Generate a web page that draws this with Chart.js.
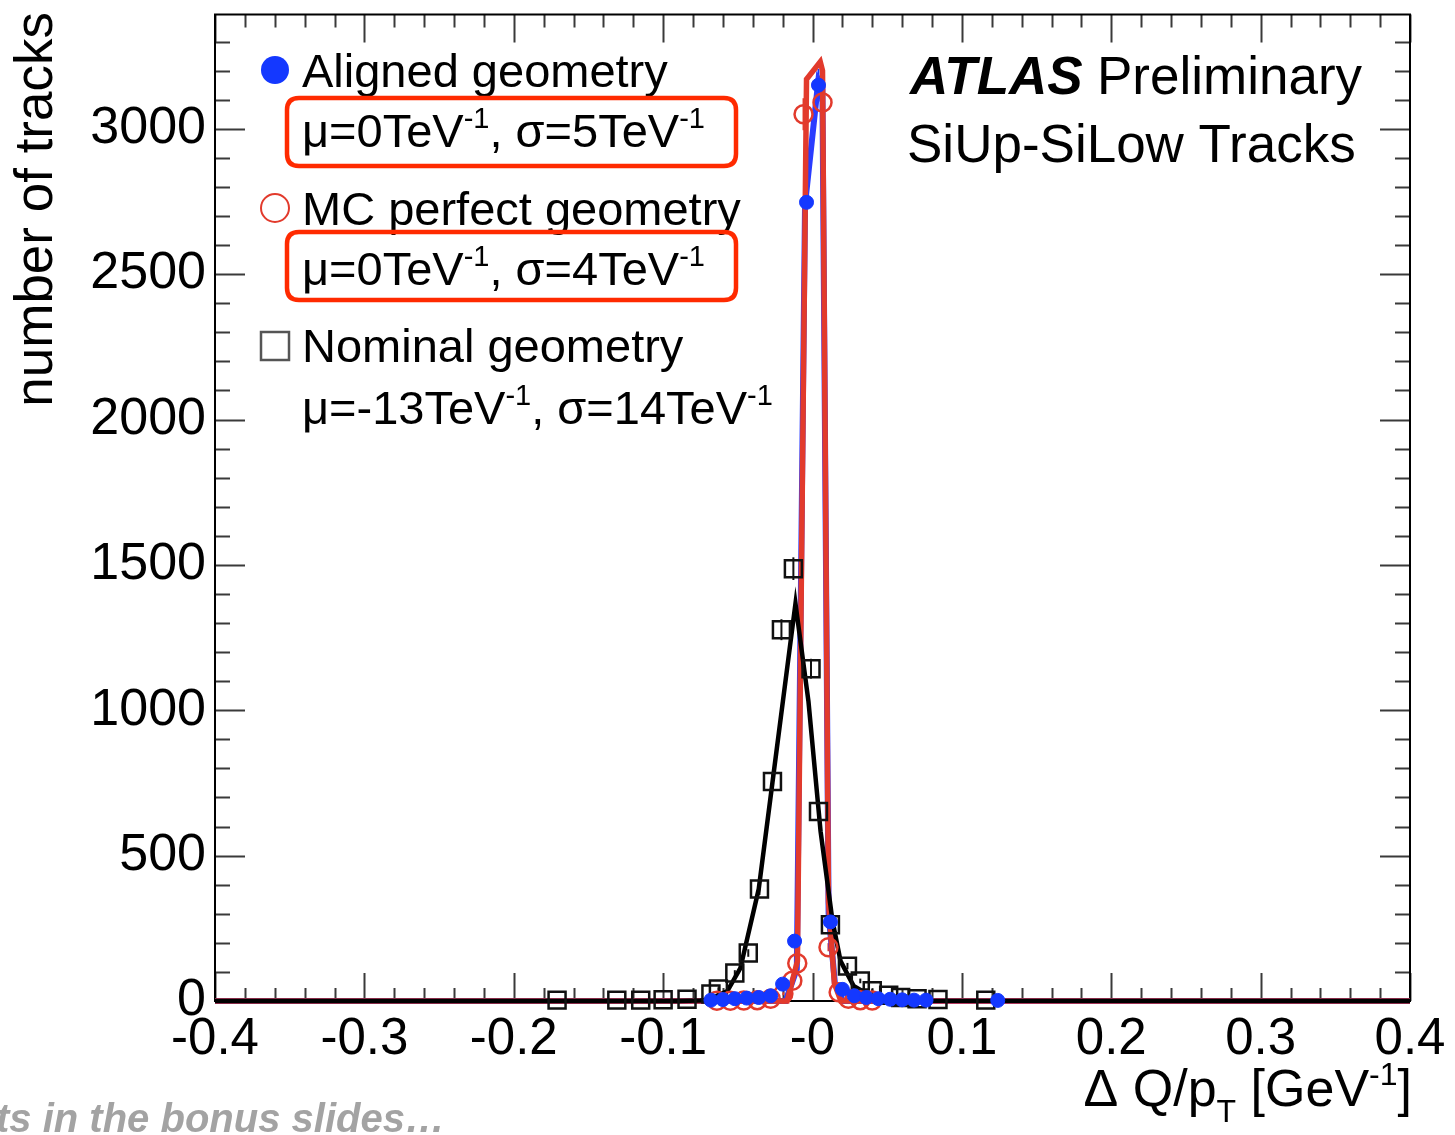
<!DOCTYPE html>
<html><head><meta charset="utf-8">
<script src="https://cdn.jsdelivr.net/npm/chart.js@4.4.1/dist/chart.umd.min.js"></script>
<style>html,body{margin:0;padding:0;background:#fff;overflow:hidden}#wrap{width:1455px;height:1135px;position:relative}</style>
</head><body><div id="wrap"><canvas id="c" width="1455" height="1135"></canvas></div>
<script>
const FONT = '"Liberation Sans", Arial, Helvetica, sans-serif';

// ---------- data ----------
const xTickValues = [-0.4, -0.3, -0.2, -0.1, 0, 0.1, 0.2, 0.3, 0.4];
const xTickLabels = ['-0.4', '-0.3', '-0.2', '-0.1', '-0', '0.1', '0.2', '0.3', '0.4'];
const yTickValues = [0, 500, 1000, 1500, 2000, 2500, 3000];
const yTickLabels = ['0', '500', '1000', '1500', '2000', '2500', '3000'];

// Nominal geometry (open black squares)
const nominalX = [-0.171, -0.131, -0.115, -0.100, -0.084, -0.068, -0.063, -0.052, -0.043, -0.0355, -0.0268, -0.0208, -0.0128, -0.0010, 0.004, 0.012, 0.0234, 0.032, 0.040, 0.051, 0.059, 0.070, 0.084, 0.116];
const nominalY = [3, 3, 3, 4, 6, 24, 41, 96, 165, 385, 755, 1277, 1487, 1143, 652, 262, 120, 69, 35, 20, 12, 8, 5, 3];
const nominalErr = [2, 2, 2, 2, 2, 5, 6, 10, 13, 20, 27, 36, 39, 34, 26, 16, 11, 8, 6, 4, 3, 3, 2, 2];

// Aligned geometry (filled blue circles)
const alignedX = [-0.068, -0.060, -0.052, -0.044, -0.036, -0.028, -0.020, -0.012, -0.004, 0.004, 0.012, 0.020, 0.028, 0.036, 0.044, 0.052, 0.060, 0.068, 0.076, 0.124];
const alignedY = [3, 5, 8, 10, 12, 18, 58, 206, 2747, 3150, 272, 40, 18, 12, 8, 6, 4, 3, 3, 2];
const alignedErr = [2, 2, 3, 3, 3, 4, 8, 14, 52, 56, 16, 6, 4, 3, 3, 2, 2, 2, 2, 1];

// MC perfect geometry (open red circles)
const mcX = [-0.064, -0.055, -0.046, -0.037, -0.028, -0.0195, -0.0135, -0.0102, -0.006, 0.0067, 0.0107, 0.0175, 0.024, 0.032, 0.040];
const mcY = [1, 1, 2, 3, 8, 25, 70, 130, 3050, 3090, 185, 30, 8, 3, 2];
const mcErr = [1, 1, 1, 2, 3, 5, 8, 11, 55, 56, 14, 5, 3, 2, 1];

// Fitted curves (as drawn)
const nominalFitX = [-0.4, -0.09, -0.075, -0.070, -0.057, -0.0483, -0.036, -0.0268, -0.0114, -0.0027, 0.0054, 0.0134, 0.0188, 0.0275, 0.039, 0.050, 0.072, 0.4];
const nominalFitY = [0, 0, 2, 4, 34, 113, 385, 752, 1367, 1030, 584, 275, 137, 52, 17, 7, 1, 0];

const alignedFitX = [-0.4, -0.018, -0.0105, -0.005, 0.0040, 0.0066, 0.0108, 0.015, 0.020, 0.4];
const alignedFitY = [0, 0, 110, 2740, 3170, 3150, 300, 60, 0, 0];

const mcFitX = [-0.4, -0.017, -0.0101, -0.0040, 0.0052, 0.0067, 0.0107, 0.0147, 0.019, 0.4];
const mcFitY = [0, 0, 137, 3170, 3230, 3200, 340, 60, 0, 0];

const Y_MAX = 3393;

const pts = (xs, ys) => xs.map((x, i) => ({ x: x, y: ys[i] }));

// ---------- helpers ----------
function rich(ctx, parts, x, y, size, align) {
  const small = Math.round(size * 0.62);
  const widths = parts.map(p => { ctx.font = (p[1] ? small : size) + 'px ' + FONT; return ctx.measureText(p[0]).width; });
  const total = widths.reduce((a, b) => a + b, 0);
  let cx = align === 'right' ? x - total : x;
  ctx.textAlign = 'left';
  ctx.textBaseline = 'alphabetic';
  parts.forEach((p, i) => {
    ctx.font = (p[1] ? small : size) + 'px ' + FONT;
    const dy = p[1] === 1 ? -size * 0.40 : (p[1] === 2 ? size * 0.30 : 0);
    ctx.fillText(p[0], cx, y + dy);
    cx += widths[i];
  });
}
function roundRect(ctx, x, y, w, h, r) {
  ctx.beginPath();
  ctx.moveTo(x + r, y);
  ctx.lineTo(x + w - r, y); ctx.quadraticCurveTo(x + w, y, x + w, y + r);
  ctx.lineTo(x + w, y + h - r); ctx.quadraticCurveTo(x + w, y + h, x + w - r, y + h);
  ctx.lineTo(x + r, y + h); ctx.quadraticCurveTo(x, y + h, x, y + h - r);
  ctx.lineTo(x, y + r); ctx.quadraticCurveTo(x, y, x + r, y);
  ctx.closePath();
}

const errorSets = [
  { xs: nominalX, ys: nominalY, es: nominalErr, color: '#111' },
  { xs: mcX, ys: mcY, es: mcErr, color: '#e23a2c' },
  { xs: alignedX, ys: alignedY, es: alignedErr, color: '#1438ff' }
];

const framePlugin = {
  id: 'frame',
  beforeDatasetsDraw(chart) {
    const ctx = chart.ctx, a = chart.chartArea;
    const xs = chart.scales.x, ys = chart.scales.y;
    ctx.save();
    ctx.strokeStyle = '#3a3a3a';
    ctx.lineWidth = 2;
    for (let k = 0; k <= 40; k++) {
      const v = -0.4 + k * 0.02;
      const px = Math.round(xs.getPixelForValue(v)) + 0.5;
      const major = k % 5 === 0;
      const L = major ? 28 : 13;
      ctx.beginPath();
      ctx.moveTo(px, a.bottom); ctx.lineTo(px, a.bottom - L);
      ctx.moveTo(px, a.top); ctx.lineTo(px, a.top + L);
      ctx.stroke();
    }
    for (let k = 0; k <= 33; k++) {
      const v = k * 100;
      const py = Math.round(ys.getPixelForValue(v)) + 0.5;
      const major = k % 5 === 0;
      const L = major ? 30 : 15;
      ctx.beginPath();
      ctx.moveTo(a.left, py); ctx.lineTo(a.left + L, py);
      ctx.moveTo(a.right, py); ctx.lineTo(a.right - L, py);
      ctx.stroke();
    }
    ctx.strokeStyle = '#000';
    ctx.lineWidth = 2;
    ctx.strokeRect(a.left, a.top, a.right - a.left, a.bottom - a.top);
    errorSets.forEach(s => {
      ctx.strokeStyle = s.color;
      ctx.lineWidth = 2;
      s.xs.forEach((x, i) => {
        const px = xs.getPixelForValue(x);
        ctx.beginPath();
        ctx.moveTo(px, ys.getPixelForValue(s.ys[i] - s.es[i]));
        ctx.lineTo(px, ys.getPixelForValue(s.ys[i] + s.es[i]));
        ctx.stroke();
      });
    });
    ctx.restore();
  },
  afterDraw(chart) {
    const ctx = chart.ctx;
    ctx.save();
    ctx.fillStyle = '#000';
    ctx.save();
    ctx.translate(52, 12);
    ctx.rotate(-Math.PI / 2);
    ctx.font = '53px ' + FONT;
    ctx.textAlign = 'right';
    ctx.textBaseline = 'alphabetic';
    ctx.fillText('number of tracks', 0, 0);
    ctx.restore();
    rich(ctx, [['\u0394 Q/p', 0], ['T', 2], [' [GeV', 0], ['-1', 1], [']', 0]], 1412, 1106, 52, 'right');

    const LS = 47;
    ctx.fillStyle = '#1438ff';
    ctx.beginPath(); ctx.arc(275, 70, 14, 0, Math.PI * 2); ctx.fill();
    ctx.strokeStyle = '#e23a2c'; ctx.lineWidth = 2;
    ctx.beginPath(); ctx.arc(275, 208, 14, 0, Math.PI * 2); ctx.stroke();
    ctx.strokeStyle = '#555'; ctx.lineWidth = 2.5;
    ctx.strokeRect(261, 332, 28, 28);
    ctx.fillStyle = '#000';
    rich(ctx, [['Aligned geometry', 0]], 302, 87, LS);
    rich(ctx, [['\u03bc=0TeV', 0], ['-1', 1], [', \u03c3=5TeV', 0], ['-1', 1]], 302, 147, LS);
    rich(ctx, [['MC perfect geometry', 0]], 302, 225, LS);
    rich(ctx, [['\u03bc=0TeV', 0], ['-1', 1], [', \u03c3=4TeV', 0], ['-1', 1]], 302, 285, LS);
    rich(ctx, [['Nominal geometry', 0]], 302, 362, LS);
    rich(ctx, [['\u03bc=-13TeV', 0], ['-1', 1], [', \u03c3=14TeV', 0], ['-1', 1]], 302, 424, LS);

    ctx.strokeStyle = '#ff2a00';
    ctx.lineWidth = 4.5;
    roundRect(ctx, 287, 98, 449, 68, 12); ctx.stroke();
    roundRect(ctx, 287, 232, 449, 68, 12); ctx.stroke();

    ctx.fillStyle = '#000';
    ctx.textAlign = 'left';
    ctx.textBaseline = 'alphabetic';
    ctx.font = 'italic bold 53px ' + FONT;
    ctx.fillText('ATLAS', 910, 94);
    ctx.font = '53px ' + FONT;
    ctx.fillText('Preliminary', 1097, 94);
    ctx.fillText('SiUp-SiLow Tracks', 907, 162);

    ctx.fillStyle = '#a3a3a3';
    ctx.font = 'italic bold 40px ' + FONT;
    ctx.fillText('ts in the bonus slides\u2026', -4, 1132);
    ctx.restore();
  }
};

const lineDs = (label, xs, ys, color, width, order) => ({
  type: 'line', label, data: pts(xs, ys), borderColor: color, borderWidth: width,
  pointRadius: 0, tension: 0, fill: false, order, clip: false
});

const noPad = s => { s.paddingTop = 0; s.paddingBottom = 0; s.paddingLeft = 0; s.paddingRight = 0; };

new Chart(document.getElementById('c'), {
  type: 'scatter',
  data: {
    datasets: [
      { label: 'Aligned geometry', data: pts(alignedX, alignedY), pointStyle: 'circle', pointRadius: 7,
        backgroundColor: '#1438ff', borderColor: '#1438ff', borderWidth: 1, order: 0, clip: false },
      { label: 'MC perfect geometry', data: pts(mcX, mcY), pointStyle: 'circle', pointRadius: 9,
        backgroundColor: 'rgba(255,255,255,0)', borderColor: '#e23a2c', borderWidth: 2.5, order: 1, clip: false },
      { label: 'Nominal geometry', data: pts(nominalX, nominalY), pointStyle: 'rect', pointRadius: 12,
        backgroundColor: 'rgba(255,255,255,0)', borderColor: '#111', borderWidth: 2.5, order: 2, clip: false },
      lineDs('Nominal fit', nominalFitX, nominalFitY, '#000', 4.5, 3),
      lineDs('MC fit', mcFitX, mcFitY, '#e23a2c', 5.5, 4),
      lineDs('Aligned fit', alignedFitX, alignedFitY, '#2a3cff', 6, 5)
    ]
  },
  options: {
    responsive: false,
    animation: false,
    devicePixelRatio: 1,
    layout: { padding: { left: 0, right: 45, top: 12, bottom: 0 } },
    plugins: { legend: { display: false }, tooltip: { enabled: false } },
    scales: {
      x: {
        type: 'linear', min: -0.4, max: 0.4,
        grid: { display: false, drawTicks: false },
        border: { display: false },
        afterBuildTicks: s => { s.ticks = xTickValues.map(v => ({ value: v })); },
        afterFit: s => { s.height = 134; noPad(s); },
        ticks: { autoSkip: false, maxRotation: 0, padding: 8, color: '#000',
          font: { family: FONT, size: 51 }, callback: (v, i) => xTickLabels[i] }
      },
      y: {
        type: 'linear', min: 0, max: Y_MAX,
        grid: { display: false, drawTicks: false },
        border: { display: false },
        afterBuildTicks: s => { s.ticks = yTickValues.map(v => ({ value: v })); },
        afterFit: s => { s.width = 215; noPad(s); },
        ticks: { autoSkip: false, padding: 9, color: '#000',
          font: { family: FONT, size: 52 }, callback: (v, i) => yTickLabels[i] }
      }
    }
  },
  plugins: [framePlugin]
});
</script>
</body></html>
